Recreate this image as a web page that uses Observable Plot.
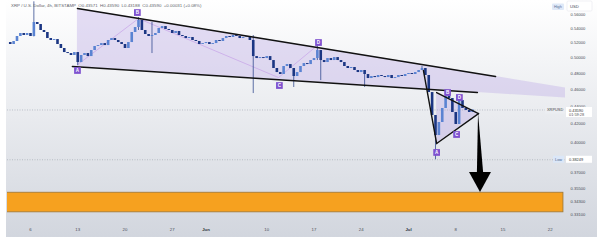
<!DOCTYPE html>
<html>
<head>
<meta charset="utf-8">
<script src="https://cdn.jsdelivr.net/npm/d3@7"></script>
<script src="https://cdn.jsdelivr.net/npm/@observablehq/plot@0.6"></script>
<style>
  html, body { margin: 0; padding: 0; background: #ffffff; }
  #chart { width: 600px; height: 240px; }
</style>
</head>
<body>
<div id="chart"></div>
<script>
// XRP/USD, 4h chart, Bitstamp: falling wedge, breakdown triangle and target zone.
const symbolTitle = "XRP / U.S. Dollar, 4h, BITSTAMP";
const lastBarText = "O0.43571  H0.43590  L0.43188  C0.43590  +0.00031 (+0.08%)";

// Price bars sampled every 12 hours (open of each bar = previous close)
const firstBarTime = "2024-05-03T00:00Z";
const barHours = 12;
const firstOpen = 0.5203;
const closes = [
  0.5176, 0.5217, 0.5286, 0.5328, 0.5300, 0.5328, 0.5286, 0.5484, 0.5455, 0.5370,
  0.5342, 0.5258, 0.5231, 0.5244, 0.5176, 0.5122, 0.5068, 0.5055, 0.5029, 0.5068,
  0.4937, 0.5029, 0.5055, 0.5015, 0.5095, 0.5149, 0.5162, 0.5189, 0.5162, 0.5231,
  0.5258, 0.5231, 0.5203, 0.5176, 0.5122, 0.5203, 0.5342, 0.5412, 0.5513, 0.5370,
  0.5314, 0.5286, 0.5300, 0.5328, 0.5398, 0.5426, 0.5384, 0.5370, 0.5328, 0.5356,
  0.5300, 0.5286, 0.5258, 0.5272, 0.5231, 0.5217, 0.5176, 0.5189, 0.5203, 0.5176,
  0.5189, 0.5231, 0.5217, 0.5258, 0.5286, 0.5272, 0.5300, 0.5286, 0.5258, 0.5272,
  0.5286, 0.5231, 0.5015, 0.4989, 0.5002, 0.4989, 0.5015, 0.4963, 0.4860, 0.4809,
  0.4784, 0.4886, 0.4911, 0.4860, 0.4759, 0.4809, 0.4886, 0.4924, 0.4911, 0.4963,
  0.4989, 0.5095, 0.4963, 0.4937, 0.4989, 0.4963, 0.5002, 0.4963, 0.4937, 0.4886,
  0.4860, 0.4873, 0.4835, 0.4809, 0.4835, 0.4784, 0.4734, 0.4759, 0.4746, 0.4772,
  0.4759, 0.4746, 0.4772, 0.4734, 0.4746, 0.4772, 0.4759, 0.4784, 0.4797, 0.4784,
  0.4809, 0.4835, 0.4860, 0.4772, 0.4563, 0.4296, 0.4076, 0.4218, 0.4376, 0.4516,
  0.4492, 0.4330, 0.4196, 0.4468, 0.4376, 0.4353, 0.4330, 0.4359
];

// Long wicks: [time, low, high]
const wicks = [
  ["2024-05-06T12:00Z", 0.5280, 0.5790],
  ["2024-05-13T00:00Z", 0.4898, 0.5068],
  ["2024-05-22T00:00Z", 0.5370, 0.5556],
  ["2024-05-24T00:00Z", 0.5055, 0.5484],
  ["2024-06-08T00:00Z", 0.4551, 0.5300],
  ["2024-06-14T00:00Z", 0.4624, 0.4860],
  ["2024-06-17T12:00Z", 0.4963, 0.5176],
  ["2024-06-18T00:00Z", 0.4709, 0.5095],
  ["2024-06-24T12:00Z", 0.4624, 0.4835],
  ["2024-07-03T00:00Z", 0.4835, 0.4886],
  ["2024-07-05T00:00Z", 0.38249, 0.4296]
];

const lastPrice = 0.43590;
const lowPrice = 0.38249;
const countdown = "01:59:28";

// Axis ticks
const dayTicks = ["2024-05-06", "2024-05-13", "2024-05-20", "2024-05-27", "2024-06-01", "2024-06-10",
                  "2024-06-17", "2024-06-24", "2024-07-01", "2024-07-08", "2024-07-15", "2024-07-22"];
const dayTickLabels = ["6", "13", "20", "27", "Jun", "10", "17", "24", "Jul", "8", "15", "22"];
const priceTicks = [0.56, 0.54, 0.52, 0.50, 0.48, 0.46, 0.44, 0.42, 0.40, 0.37, 0.355, 0.343, 0.331];

// Falling wedge trendlines: [time, price]
const wedgeUpper = [["2024-05-12T23:00Z", 0.5689], ["2024-07-13T21:30Z", 0.4759]];
const wedgeLower = [["2024-05-12T05:00Z", 0.4886], ["2024-07-11T05:00Z", 0.4563]];
// Shaded wedge band: [time, lower, upper]
const wedgeBand = [["2024-05-12T23:00Z", 0.4883, 0.5689], ["2024-07-24T06:14Z", 0.4497, 0.4619]];
// ABCD swing points inside the wedge
const wedgeSwings = [["2024-05-13T00:00Z", 0.4911], ["2024-05-22T00:00Z", 0.5541],
                     ["2024-06-11T18:00Z", 0.4746], ["2024-06-17T16:00Z", 0.5176]];

// Breakdown leg and triangle
const breakdownLeg = [["2024-07-03T05:00Z", 0.4835], ["2024-07-05T04:00Z", 0.3992]];
const triangleBand = [["2024-07-05T04:00Z", 0.3992, 0.4563], ["2024-07-11T09:00Z", 0.4318, 0.4318]];

// Downside projection arrow
const arrowShaft = [[0.4318, "2024-07-11T09:00Z", "2024-07-11T09:00Z"], [0.3699, "2024-07-11T05:00Z", "2024-07-12T03:00Z"]];
const arrowHead = [["2024-07-10T01:00Z", 0.3699], ["2024-07-11T16:00Z", 0.3510], ["2024-07-13T07:00Z", 0.3699]];

// Target zone
const targetZone = [["2024-04-30T00:00Z", "2024-07-23T23:00Z", 0.3332, 0.3508]];

// Pattern point labels: [letter, time, price]
const pointLabels = [
  ["A", "2024-05-12T23:00Z", 0.4835], ["B", "2024-05-21T20:00Z", 0.5629],
  ["C", "2024-06-11T21:00Z", 0.4648], ["D", "2024-06-17T16:00Z", 0.5203],
  ["A", "2024-07-05T04:00Z", 0.3899], ["B", "2024-07-06T19:00Z", 0.4563],
  ["C", "2024-07-08T03:00Z", 0.4087], ["D", "2024-07-08T13:00Z", 0.4504]
];

const upColor = "#5a83d2";
const downColor = "#1b3683";
const purple = "#7e51cf";
const font = "'Liberation Sans', Arial, sans-serif";
const textColor = "#474c55";

const start = new Date(firstBarTime).getTime();
const bars = closes.map((c, i) => ({
  date: new Date(start + i * barHours * 3600e3),
  open: i === 0 ? firstOpen : closes[i - 1],
  close: c
}));
const wickData = wicks.map(([t, lo, hi]) => ({date: new Date(t), low: lo, high: hi}));
const pts = a => a.map(([t, p]) => ({date: new Date(t), price: p}));
const bands = a => a.map(([t, lo, hi]) => ({date: new Date(t), lower: lo, upper: hi}));
const labelData = pointLabels.map(([name, t, p]) => ({name, date: new Date(t), price: p}));
const xTickData = dayTicks.map((d, i) => ({date: new Date(d + "T00:00Z"), label: dayTickLabels[i]}));
const fmt = d3.format(".5f");

// Chart backdrop with a soft vertical gradient
function backdrop() {
  const g = d3.create("svg:g");
  const defs = g.append("defs");
  const lg = defs.append("linearGradient").attr("id", "paneBg")
    .attr("x1", 0).attr("y1", 0).attr("x2", 0).attr("y2", 1);
  lg.append("stop").attr("offset", "0%").attr("stop-color", "#ffffff");
  lg.append("stop").attr("offset", "100%").attr("stop-color", "#d2d6de");
  g.append("rect").attr("x", 6).attr("y", 0).attr("width", 591).attr("height", 237)
    .attr("fill", "url(#paneBg)");
  return g.node();
}

// Header line and price-scale tags
function overlays(index, {y}) {
  const g = d3.create("svg:g").attr("font-family", font).attr("text-anchor", "start");
  g.append("text").attr("x", 11).attr("y", 7).attr("font-size", 4.4).attr("fill", "#62656c")
    .text(symbolTitle + "  " + lastBarText);
  // currency box
  g.append("rect").attr("x", 567).attr("y", 1).attr("width", 25).attr("height", 10).attr("rx", 1)
    .attr("fill", "#ffffff").attr("stroke", "#e0e3e8").attr("stroke-width", 0.5);
  g.append("text").attr("x", 570).attr("y", 7.5).attr("font-size", 4.2).attr("fill", textColor).text("USD");
  g.append("rect").attr("x", 552).attr("y", 3.5).attr("width", 12).attr("height", 6.5).attr("rx", 1)
    .attr("fill", "#dfe9f8");
  g.append("text").attr("x", 554).attr("y", 8.2).attr("font-size", 3.8).attr("fill", "#5a6f95").text("High");
  // last price
  const yp = y(lastPrice);
  g.append("rect").attr("x", 545).attr("y", yp - 3).attr("width", 20).attr("height", 7)
    .attr("fill", "#eceef2");
  g.append("text").attr("x", 547).attr("y", yp + 2).attr("font-size", 3.9).attr("fill", "#444").text("XRPUSD");
  g.append("rect").attr("x", 566).attr("y", yp - 2.5).attr("width", 26).attr("height", 10)
    .attr("fill", "#ffffff");
  g.append("text").attr("x", 569).attr("y", yp + 2.2).attr("font-size", 3.9).attr("fill", "#333").text(fmt(lastPrice));
  g.append("text").attr("x", 569).attr("y", yp + 6.4).attr("font-size", 3.9).attr("fill", "#555").text(countdown);
  // session low
  const yl = y(lowPrice);
  g.append("rect").attr("x", 553).attr("y", yl - 3.5).attr("width", 11).attr("height", 7)
    .attr("fill", "#dbe7f8");
  g.append("text").attr("x", 555).attr("y", yl + 1.4).attr("font-size", 3.9).attr("fill", "#4a6390").text("Low");
  g.append("rect").attr("x", 566).attr("y", yl - 3.5).attr("width", 26).attr("height", 7)
    .attr("fill", "#ffffff");
  g.append("text").attr("x", 569).attr("y", yl + 1.4).attr("font-size", 3.9).attr("fill", "#333").text(fmt(lowPrice));
  return g.node();
}

const chart = Plot.plot({
  width: 600,
  height: 240,
  marginLeft: 7,
  marginRight: 35,
  marginTop: 0,
  marginBottom: 21,
  style: {fontFamily: font, background: "transparent", overflow: "visible"},
  x: {type: "utc", domain: [new Date("2024-05-02T14:14Z"), new Date("2024-07-24T06:14Z")], axis: null},
  y: {type: "log", domain: [0.3270, 0.5810], axis: null},
  color: {type: "identity"},
  marks: [
    backdrop,
    // target zone
    Plot.rect(targetZone, {x1: d => new Date(d[0]), x2: d => new Date(d[1]), y1: d => d[2], y2: d => d[3],
      fill: "#f6a11f", stroke: "#9b7636", strokeWidth: 0.8, clip: true}),
    // wedge and triangle shading
    Plot.areaY(bands(wedgeBand), {x: "date", y1: "lower", y2: "upper", fill: "#c2b1e6", fillOpacity: 0.42, clip: true}),
    Plot.areaY(bands(triangleBand), {x: "date", y1: "lower", y2: "upper", fill: "#c2b1e6", fillOpacity: 0.45}),
    // reference lines
    Plot.ruleY([lastPrice], {stroke: "#9ba1ab", strokeWidth: 0.6, strokeDasharray: "1,1.5"}),
    Plot.ruleY([lowPrice], {stroke: "#9ba1ab", strokeWidth: 0.6, strokeDasharray: "1,1.5"}),
    // swing connectors
    Plot.line(pts(wedgeSwings), {x: "date", y: "price", stroke: "#c9a8e8", strokeWidth: 0.8}),
    // price bars
    Plot.ruleX(wickData, {x: "date", y1: "low", y2: "high", stroke: downColor, strokeWidth: 0.7, clip: true}),
    Plot.ruleX(bars, {x: "date", y1: "open", y2: "close",
      stroke: d => d.close >= d.open ? upColor : downColor, strokeWidth: 2.6, clip: true}),
    // trendlines
    Plot.line(pts(wedgeUpper), {x: "date", y: "price", stroke: "#111", strokeWidth: 1.5}),
    Plot.line(pts(wedgeLower), {x: "date", y: "price", stroke: "#111", strokeWidth: 1.5}),
    Plot.line(pts(breakdownLeg), {x: "date", y: "price", stroke: "#111", strokeWidth: 1.4}),
    Plot.line(bands(triangleBand), {x: "date", y: "upper", stroke: "#111", strokeWidth: 1.4}),
    Plot.line(bands(triangleBand), {x: "date", y: "lower", stroke: "#111", strokeWidth: 1.4}),
    // projection arrow
    Plot.areaX(arrowShaft.map(([p, a, b]) => ({price: p, left: new Date(a), right: new Date(b)})),
      {y: "price", x1: "left", x2: "right", fill: "#000"}),
    Plot.areaY(pts(arrowHead), {x: "date", y1: "price", y2: () => arrowHead[0][1], fill: "#000"}),
    // point labels
    Plot.dot(labelData, {x: "date", y: "price", symbol: "square", r: 3.8, fill: purple}),
    Plot.text(labelData, {x: "date", y: "price", text: "name", fill: "#ffffff", fontSize: 4.6, fontWeight: "bold"}),
    // price scale
    Plot.text(priceTicks, {y: d => d, text: d => fmt(d), frameAnchor: "right", dx: 5, textAnchor: "start",
      fontSize: 4.1, fill: textColor}),
    // time scale
    Plot.text(xTickData.filter(d => !/[A-Za-z]/.test(d.label)), {x: "date", text: "label", frameAnchor: "bottom",
      dy: 11, fontSize: 4.3, fill: textColor}),
    Plot.text(xTickData.filter(d => /[A-Za-z]/.test(d.label)), {x: "date", text: "label", frameAnchor: "bottom",
      dy: 11, fontSize: 4.3, fontWeight: "bold", fill: "#30343b"}),
    overlays
  ]
});

document.getElementById("chart").appendChild(chart);
</script>
</body>
</html>
